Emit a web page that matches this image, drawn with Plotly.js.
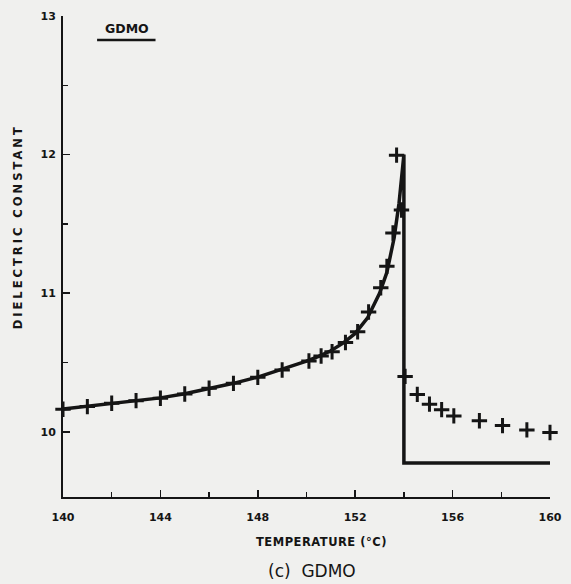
<!DOCTYPE html>
<html>
<head>
<meta charset="utf-8">
<script src="https://cdn.plot.ly/plotly-3.0.1.min.js"></script>
<style>html,body{margin:0;padding:0;background:#f0f0ee;}#chart{width:571px;height:584px;}</style>
</head>
<body>
<div id="chart"></div>
<script>
// Theory curve (solid line)
const theoryT = [140,141,142,143,144,145,146,147,148,149,150,150.5,151,151.5,152,152.5,153,153.3,153.6,153.8,153.95,154.0,154.0,160];
const theoryE = [10.165,10.185,10.205,10.225,10.245,10.275,10.31,10.35,10.395,10.45,10.51,10.545,10.585,10.64,10.71,10.82,11.0,11.15,11.4,11.65,11.95,12.0,9.775,9.775];

// Measured points (+ markers)
const measT = [140,141,142,143,144,145,146,147,148,149,150.1,150.6,151.05,151.6,152.1,152.55,153.05,153.3,153.55,153.7,153.9,154.05,154.55,155.05,155.55,156.05,157.1,158.05,159.05,160.0];
const measE = [10.163,10.182,10.206,10.225,10.242,10.273,10.314,10.35,10.393,10.446,10.511,10.547,10.578,10.645,10.722,10.865,11.04,11.194,11.435,11.996,11.6,10.40,10.27,10.20,10.16,10.115,10.08,10.045,10.014,9.995];

const xTickVals = [140,144,148,152,156,160];
const xTickText = ['140','144','148','152','156','160'];
const yTickVals = [10,11,12,13];
const yTickText = ['10','11','12','13'];

const ink = '#151515';
const tickFont = {family:'DejaVu Sans', size:11, color:ink, weight:'bold'};

const data = [
  {x: theoryT, y: theoryE, mode:'lines', line:{color:ink, width:3.5}, hoverinfo:'skip', cliponaxis:false},
  {x: measT, y: measE, mode:'markers', marker:{symbol:'cross-thin', size:11, line:{color:ink, width:3}}, cliponaxis:false}
];

const layout = {
  width:571, height:584,
  margin:{l:63, r:21, t:16, b:87},
  paper_bgcolor:'#f0f0ee', plot_bgcolor:'#f0f0ee',
  showlegend:false,
  font:{family:'DejaVu Sans', color:ink},
  xaxis:{
    range:[140,160], showgrid:false, zeroline:false,
    showline:true, linecolor:ink, linewidth:2,
    ticks:'inside', ticklen:7, tickwidth:1.5, tickcolor:ink,
    tickvals:xTickVals, ticktext:xTickText, tickfont:tickFont, ticklabelstandoff:9,
    minor:{tickvals:[142,146,150,154,158], ticks:'inside', ticklen:5, tickwidth:1.5, tickcolor:ink, showgrid:false}
  },
  yaxis:{
    range:[9.53,13], showgrid:false, zeroline:false,
    showline:true, linecolor:ink, linewidth:2,
    ticks:'inside', ticklen:7, tickwidth:1.5, tickcolor:ink,
    tickvals:yTickVals, ticktext:yTickText, tickfont:tickFont, ticklabelstandoff:3,
    minor:{tickvals:[10.5,11.5,12.5], ticks:'inside', ticklen:5, tickwidth:1.5, tickcolor:ink, showgrid:false}
  },
  annotations:[
    {text:'<b>GDMO</b>', xref:'paper', yref:'paper', x:0.132, y:0.974, xanchor:'center', yanchor:'middle', showarrow:false, font:{family:'DejaVu Sans', size:12.5, color:ink}},
    {text:'<span style="letter-spacing:3px"><b>DIELECTRIC CONSTANT</b></span>', xref:'paper', yref:'paper', x:-0.092, y:0.561, xanchor:'center', yanchor:'middle', textangle:-90, showarrow:false, font:{family:'DejaVu Sans', size:11.5, color:ink}},
    {text:'<span style="letter-spacing:0.5px"><b>TEMPERATURE (°C)</b></span>', xref:'paper', yref:'paper', x:0.53, y:-0.0936, xanchor:'center', yanchor:'middle', showarrow:false, font:{family:'DejaVu Sans', size:11.5, color:ink}},
    {text:'(c)  GDMO', xref:'paper', yref:'paper', x:0.511, y:-0.154, xanchor:'center', yanchor:'middle', showarrow:false, font:{family:'DejaVu Sans', size:17, color:ink}}
  ],
  shapes:[
    {type:'line', xref:'paper', yref:'paper', x0:0.07, x1:0.19, y0:0.950, y1:0.950, line:{color:ink, width:2.5}}
  ]
};

Plotly.newPlot('chart', data, layout, {displayModeBar:false, staticPlot:true});
</script>
</body>
</html>
